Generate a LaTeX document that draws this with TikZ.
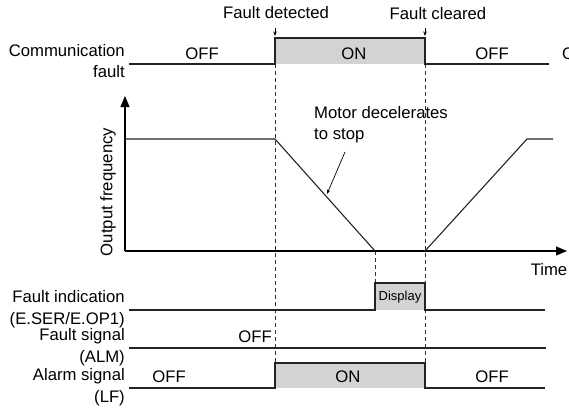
\documentclass[tikz,border=0pt]{standalone}
\usepackage{fontspec}
\setmainfont{Liberation Sans}
\usetikzlibrary{arrows.meta, positioning, calc}
\definecolor{onfill}{RGB}{211,211,211}
\definecolor{guidegray}{RGB}{50,50,50}
\definecolor{sigline}{RGB}{35,35,35}
\tikzset{
  sig/.style={draw=sigline, line width=1.1pt, line join=miter},
  guide/.style={draw=guidegray, line width=0.7pt, dash pattern=on 4pt off 3pt},
  axis/.style={line width=1.1pt, -{Triangle[length=11pt,width=9pt]}},
  tip/.style={-{Stealth[length=4.5pt,width=3.5pt]}, line width=0.7pt},
  sname/.style={font=\fontsize{16.7}{21.5}\selectfont, align=right,
    anchor=east, inner sep=0pt},
  state/.style={font=\fontsize{16.7}{20}\selectfont, inner sep=0pt},
  note/.style={font=\fontsize{16.7}{21}\selectfont, inner sep=0pt}
}

\begin{document}
\begin{tikzpicture}[x=1pt, y=-1pt]
  \useasboundingbox (0,0) rectangle (569,407);
  \clip (0,0) rectangle (569,407);

  % grey ON areas
  \fill[onfill] (275,38)  rectangle (425,64);
  \fill[onfill] (375,283) rectangle (425,310);
  \fill[onfill] (275,363) rectangle (425,388);

  % guide lines
  \draw[guide] (275,64)  -- (275,363);
  \draw[guide] (425,64)  -- (425,363);
  \draw[guide] (375,251) -- (375,283);

  % communication fault
  \draw[sig] (129,64) -- (275,64) -- (275,38) -- (425,38) -- (425,64) -- (549,64);

  % output frequency
  \coordinate (origin) at (125,251);
  \coordinate (ytop)   at (125,96);
  \coordinate (xend)   at (567,251);
  \draw[axis] (origin) -- (ytop);
  \draw[axis] (origin) -- (xend);
  \draw[sig] (125,139) -- (275,139) -- (375,251);
  \draw[sig] (425,251) -- (527,139) -- (553,139);

  % fault indication, fault signal, alarm signal
  \draw[sig] (129,310) -- (375,310) -- (375,283) -- (425,283) -- (425,310) -- (545,310);
  \draw[sig] (129,348) -- (546,348);
  \draw[sig] (129,388) -- (275,388) -- (275,363) -- (425,363) -- (425,388) -- (545,388);

  % signal names
  \node[sname] (comm)  at (125,61)  {Communication\\fault};
  \node[sname, rotate=90, anchor=center] (freq) at (108,192) {Output frequency};
  \node[sname] (find)  at (125,309) {Fault indication\\(E.SER/E.OP1)};
  \node[sname] (fsig)  at (125,347) {Fault signal\\(ALM)};
  \node[sname] (asig)  at (125,387) {Alarm signal\\(LF)};
  \node[state] (time)  at (549,270) {Time};

  % states
  \node[state] (cf1) at (202,54) {OFF};
  \node[state] (cf2) at (354,54) {ON};
  \node[state] (cf3) at (492,54) {OFF};
  \node[state, anchor=west] (cf4) at (562,54) {ON};
  \node[state, font=\fontsize{13}{15}\selectfont] (disp) at (400,297) {Display};
  \node[state, anchor=east] (fs1) at (272,337) {OFF};
  \node[state] (al1) at (169,377) {OFF};
  \node[state] (al2) at (348,377) {ON};
  \node[state] (al3) at (492,377) {OFF};

  % events
  \node[state] (det) at (276,13) {Fault detected};
  \node[state] (clr) at (438,14) {Fault cleared};
  \coordinate (det0) at (275,28);
  \coordinate (det1) at (275,36);
  \coordinate (clr0) at (425,28);
  \coordinate (clr1) at (425,36);
  \draw[tip] (det0) -- (det1);
  \draw[tip] (clr0) -- (clr1);

  \node[note, align=left, anchor=north west] (decel) at (314,106)
    {Motor decelerates\\to stop};
  \coordinate (ramp) at (327,194);
  \draw[tip] (345,152) -- (ramp);
\end{tikzpicture}
\end{document}
